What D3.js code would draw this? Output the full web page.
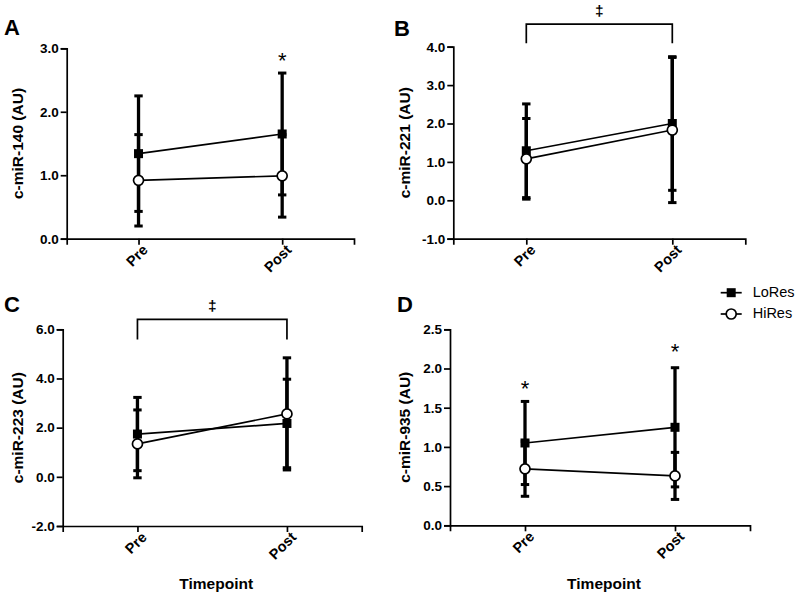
<!DOCTYPE html>
<html><head><meta charset="utf-8">
<script src="https://cdn.jsdelivr.net/npm/d3@7"></script>
<style>body{margin:0;background:#fff}svg{display:block;font-family:Arial,"Liberation Sans",sans-serif}</style>
</head><body><svg id="c" width="800" height="595"></svg>
<script>
const timepoints = ["Pre", "Post"];
const panelLetters = ["A", "B", "C", "D"];
const yLabels = ["c-miR-140 (AU)", "c-miR-221 (AU)", "c-miR-223 (AU)", "c-miR-935 (AU)"];
const yDomains = [[0, 3], [-1, 4], [-2, 6], [0, 2.5]];
const yTicks = [[0, 1, 2, 3], [-1, 0, 1, 2, 3, 4], [-2, 0, 2, 4, 6], [0, 0.5, 1, 1.5, 2, 2.5]];
const loResMean = [[1.34, 1.65], [1.29, 2.00], [1.74, 2.17], [1.05, 1.25]];
const loResSD   = [[0.91, 0.96], [1.22, 1.74], [1.49, 1.80], [0.53, 0.76]];
const hiResMean = [[0.92, 0.99], [1.08, 1.83], [1.34, 2.56], [0.72, 0.63]];
const hiResSD   = [[0.72, 0.65], [1.05, 1.89], [1.38, 2.28], [0.35, 0.30]];
// asterisk positions (value on y axis), null = none
const starAt = [[null, 2.89], [null, null], [null, null], [1.81, 2.28]];
// bracket [top, leg end] in y-axis values
const brackets = [null, [4.59, 4.09], [6.4, 5.59], null];
const seriesNames = ["LoRes", "HiRes"];

const layout = [
  {x0: 66.7, x1: 354, yT: 48.3, yB: 238.7, lx: 19, letter: [4, 35], xTitle: false},
  {x0: 453.3, x1: 745.3, yT: 46.7, yB: 238.7, lx: 406, letter: [394, 36], xTitle: false},
  {x0: 62.7, x1: 361.7, yT: 329.3, yB: 526, lx: 19, letter: [4, 312], xTitle: true},
  {x0: 450, x1: 750, yT: 329.3, yB: 525.3, lx: 406, letter: [397, 312], xTitle: true}
];

const svg = d3.select("#c");
const fmt = v => d3.format(".1f")(v).replace("\u2212", "-");

layout.forEach((L, i) => {
  const g = svg.append("g");
  const x = d3.scalePoint().domain(timepoints).range([L.x0, L.x1]).padding(0.5);
  const y = d3.scaleLinear().domain(yDomains[i]).range([L.yB, L.yT]);

  const ya = g.append("g").attr("transform", `translate(${L.x0},0)`)
    .call(d3.axisLeft(y).tickValues(yTicks[i]).tickFormat(fmt).tickSize(6).tickPadding(2));
  const xa = g.append("g").attr("transform", `translate(0,${L.yB})`)
    .call(d3.axisBottom(x).tickSize(6).tickPadding(4));
  [ya, xa].forEach(a => {
    a.select(".domain").attr("stroke", "#000").attr("stroke-width", 1.7);
    a.selectAll(".tick line").attr("stroke", "#000").attr("stroke-width", 1.7);
    a.selectAll("text").attr("fill", "#000").attr("font-size", 13.5).attr("font-weight", "bold")
      .attr("font-family", "Arial, 'Liberation Sans', sans-serif");
  });
  xa.selectAll(".tick text").attr("text-anchor", "end").attr("dy", null).attr("y", 0).attr("x", 0)
    .attr("font-size", 14.5)
    .attr("transform", "translate(7,9.5) rotate(-45)").attr("dominant-baseline", "middle");

  // y label
  g.append("text").attr("transform", `translate(${L.lx},${(L.yT + L.yB) / 2}) rotate(-90)`)
    .attr("text-anchor", "middle").attr("dominant-baseline", "middle")
    .attr("font-size", 15.5).attr("font-weight", "bold").text(yLabels[i]);
  // panel letter
  g.append("text").attr("x", L.letter[0]).attr("y", L.letter[1])
    .attr("font-size", 22).attr("font-weight", "bold").text(panelLetters[i]);
  if (L.xTitle) {
    g.append("text").attr("x", (L.x0 + L.x1) / 2 + 4).attr("y", 589)
      .attr("text-anchor", "middle").attr("font-size", 15.5).attr("font-weight", "bold").text("Timepoint");
  }

  const series = [
    {m: loResMean[i], s: loResSD[i], name: "LoRes"},
    {m: hiResMean[i], s: hiResSD[i], name: "HiRes"}
  ];
  // error bars
  series.forEach(S => {
    timepoints.forEach((t, j) => {
      const cx = x(t), hi = y(S.m[j] + S.s[j]), lo = y(S.m[j] - S.s[j]);
      g.append("line").attr("x1", cx).attr("x2", cx).attr("y1", hi).attr("y2", lo)
        .attr("stroke", "#000").attr("stroke-width", 3.3);
      [hi, lo].forEach(yy => g.append("line").attr("x1", cx - 4.2).attr("x2", cx + 4.2)
        .attr("y1", yy).attr("y2", yy).attr("stroke", "#000").attr("stroke-width", 3));
    });
  });
  // lines
  series.forEach(S => {
    const pts = timepoints.map((t, j) => [x(t), y(S.m[j])]);
    g.append("path").attr("d", d3.line()(pts)).attr("fill", "none").attr("stroke", "#000").attr("stroke-width", 1.7);
  });
  // markers
  series.forEach(S => {
    timepoints.forEach((t, j) => {
      if (S.name === "LoRes") {
        g.append("rect").attr("x", x(t) - 4.5).attr("y", y(S.m[j]) - 4.5).attr("width", 9).attr("height", 9).attr("fill", "#000");
      } else {
        g.append("circle").attr("cx", x(t)).attr("cy", y(S.m[j])).attr("r", 5)
          .attr("fill", "#fff").attr("stroke", "#000").attr("stroke-width", 1.7);
      }
    });
  });
  // significance stars
  timepoints.forEach((t, j) => {
    if (starAt[i][j] == null) return;
    g.append("text").attr("x", x(t)).attr("y", y(starAt[i][j]) + 12.5).attr("text-anchor", "middle")
      .attr("font-size", 22).text("*");
  });
  // brackets
  if (brackets[i]) {
    const [bt, bl] = brackets[i];
    const xa0 = x("Pre"), xb0 = x("Post");
    g.append("path").attr("d", `M${xa0},${y(bl)}V${y(bt)}H${xb0}V${y(bl)}`)
      .attr("fill", "none").attr("stroke", "#000").attr("stroke-width", 1.7);
    g.append("text").attr("x", (xa0 + xb0) / 2).attr("y", y(bt) - 8).attr("text-anchor", "middle")
      .attr("font-size", 15.5).attr("font-weight", "bold").text("\u2021");
  }
});

// legend
const leg = svg.append("g");
seriesNames.forEach((n, k) => {
  const yy = 292.7 + k * 21.3;
  leg.append("line").attr("x1", 720.7).attr("x2", 741.7).attr("y1", yy).attr("y2", yy)
    .attr("stroke", "#000").attr("stroke-width", 1.7);
  if (k === 0) leg.append("rect").attr("x", 726.7).attr("y", yy - 4.5).attr("width", 9).attr("height", 9).attr("fill", "#000");
  else leg.append("circle").attr("cx", 731.2).attr("cy", yy).attr("r", 5).attr("fill", "#fff").attr("stroke", "#000").attr("stroke-width", 1.7);
  leg.append("text").attr("x", 752.7).attr("y", yy).attr("dominant-baseline", "middle")
    .attr("font-size", 14.5).text(n);
});
</script></body></html>
